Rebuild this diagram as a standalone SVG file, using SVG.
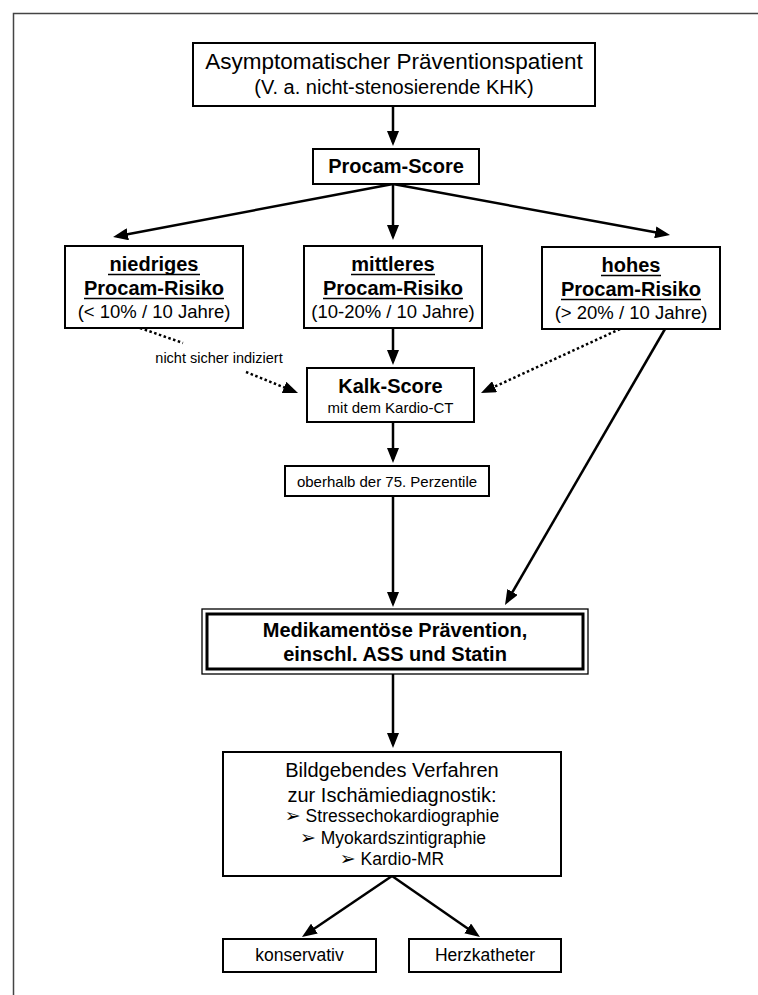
<svg xmlns="http://www.w3.org/2000/svg" width="758" height="995" viewBox="0 0 758 995">
<defs>
<style>
text{font-family:"Liberation Sans",Arial,sans-serif;fill:#000;text-anchor:middle}
.b{font-weight:bold}
.box{fill:#fff;stroke:#000;stroke-width:2}
.ln{fill:none;stroke:#000;stroke-width:2.5}
.dot{fill:none;stroke:#000;stroke-width:2.5;stroke-dasharray:2.5 2.5}
.ul{stroke:#000;stroke-width:1.6}
.blt{font-family:"DejaVu Sans",sans-serif;font-size:19px}
</style>
<marker id="ah" markerUnits="userSpaceOnUse" markerWidth="15" markerHeight="12" refX="11" refY="6" orient="auto">
<path d="M0,0 L15,6 L0,12 z" fill="#000"/>
</marker>
</defs>
<rect width="758" height="995" fill="#fff"/>
<path d="M13.5,995 V13.5 H758" fill="none" stroke="#444" stroke-width="1.5"/>

<g id="connectors">
<line class="ln" x1="393" y1="106" x2="393" y2="142" marker-end="url(#ah)"/>
<line class="ln" x1="393" y1="184" x2="117" y2="236.3" marker-end="url(#ah)"/>
<line class="ln" x1="393" y1="184" x2="393" y2="236" marker-end="url(#ah)"/>
<line class="ln" x1="393" y1="184" x2="666.1" y2="234.3" marker-end="url(#ah)"/>
<line class="ln" x1="393" y1="328" x2="393" y2="361" marker-end="url(#ah)"/>
<line class="dot" x1="140" y1="328" x2="183" y2="343"/>
<line class="dot" x1="246" y1="372" x2="294.3" y2="391.5" marker-end="url(#ah)"/>
<line class="dot" x1="620" y1="329" x2="484.6" y2="391.3" marker-end="url(#ah)"/>
<line class="ln" x1="393" y1="422" x2="393" y2="459" marker-end="url(#ah)"/>
<line class="ln" x1="393" y1="496" x2="393" y2="603" marker-end="url(#ah)"/>
<line class="ln" x1="665" y1="329" x2="507" y2="601.5" marker-end="url(#ah)"/>
<line class="ln" x1="393" y1="674" x2="393" y2="744" marker-end="url(#ah)"/>
<line class="ln" x1="392" y1="876" x2="305.3" y2="934.8" marker-end="url(#ah)"/>
<line class="ln" x1="392" y1="876" x2="476.7" y2="934.7" marker-end="url(#ah)"/>
<text x="219" y="363" style="font-size:14.5px">nicht sicher indiziert</text>
</g>

<g id="patient">
<rect class="box" x="193" y="43" width="402" height="63"/>
<text x="394" y="69" style="font-size:22.5px">Asymptomatischer Präventionspatient</text>
<text x="394" y="94" style="font-size:20px">(V. a. nicht-stenosierende KHK)</text>
</g>

<g id="procam">
<rect class="box" x="313" y="149" width="166" height="35"/>
<text class="b" x="396" y="173" style="font-size:20px">Procam-Score</text>
</g>

<g id="niedrig">
<rect class="box" x="65" y="246" width="178" height="82"/>
<text class="b" x="154" y="271" style="font-size:20px">niedriges</text>
<line class="ul" x1="108" y1="274.5" x2="200" y2="274.5"/>
<text class="b" x="154" y="295" style="font-size:20px">Procam-Risiko</text>
<line class="ul" x1="84" y1="298.5" x2="224" y2="298.5"/>
<text x="154" y="318" style="font-size:18.5px">(&lt; 10% / 10 Jahre)</text>
</g>

<g id="mittel">
<rect class="box" x="304" y="246" width="178" height="82"/>
<text class="b" x="393" y="271" style="font-size:20px">mittleres</text>
<line class="ul" x1="351" y1="274.5" x2="435" y2="274.5"/>
<text class="b" x="393" y="295" style="font-size:20px">Procam-Risiko</text>
<line class="ul" x1="323" y1="298.5" x2="463" y2="298.5"/>
<text x="393" y="318" style="font-size:18.5px">(10-20% / 10 Jahre)</text>
</g>

<g id="hoch">
<rect class="box" x="542" y="247" width="178" height="82"/>
<text class="b" x="631" y="272" style="font-size:20px">hohes</text>
<line class="ul" x1="601" y1="275.5" x2="661" y2="275.5"/>
<text class="b" x="631" y="296" style="font-size:20px">Procam-Risiko</text>
<line class="ul" x1="561" y1="299.5" x2="701" y2="299.5"/>
<text x="631" y="319" style="font-size:18.5px">(&gt; 20% / 10 Jahre)</text>
</g>

<g id="kalk">
<rect class="box" x="307" y="368" width="167" height="54"/>
<text class="b" x="390.5" y="393" style="font-size:20px">Kalk-Score</text>
<text x="390.5" y="413" style="font-size:15px">mit dem Kardio-CT</text>
</g>

<g id="perzentile">
<rect class="box" x="285" y="466" width="204" height="30"/>
<text x="387" y="487" style="font-size:15px">oberhalb der 75. Perzentile</text>
</g>

<g id="medikament">
<rect x="202" y="609" width="386" height="65" fill="#fff" stroke="#000" stroke-width="1.3"/>
<rect x="207" y="614" width="376" height="55" fill="none" stroke="#000" stroke-width="3"/>
<text class="b" x="395" y="637" style="font-size:20px">Medikamentöse Prävention,</text>
<text class="b" x="395" y="661" style="font-size:20px">einschl. ASS und Statin</text>
</g>

<g id="bildgebung">
<rect class="box" x="223" y="752" width="338" height="124"/>
<text x="392" y="777" style="font-size:20px">Bildgebendes Verfahren</text>
<text x="392" y="802" style="font-size:20px">zur Ischämiediagnostik:</text>
<text x="392" y="822" style="font-size:17.5px"><tspan class="blt">➢</tspan> Stressechokardiographie</text>
<text x="393" y="844" style="font-size:17.5px"><tspan class="blt">➢</tspan> Myokardszintigraphie</text>
<text x="392" y="865" style="font-size:17.5px"><tspan class="blt">➢</tspan> Kardio-MR</text>
</g>

<g id="konservativ">
<rect class="box" x="223" y="939" width="153" height="33"/>
<text x="299.5" y="961" style="font-size:17.5px">konservativ</text>
</g>

<g id="herzkatheter">
<rect class="box" x="409" y="939" width="152" height="33"/>
<text x="485" y="961" style="font-size:17.5px">Herzkatheter</text>
</g>
</svg>
